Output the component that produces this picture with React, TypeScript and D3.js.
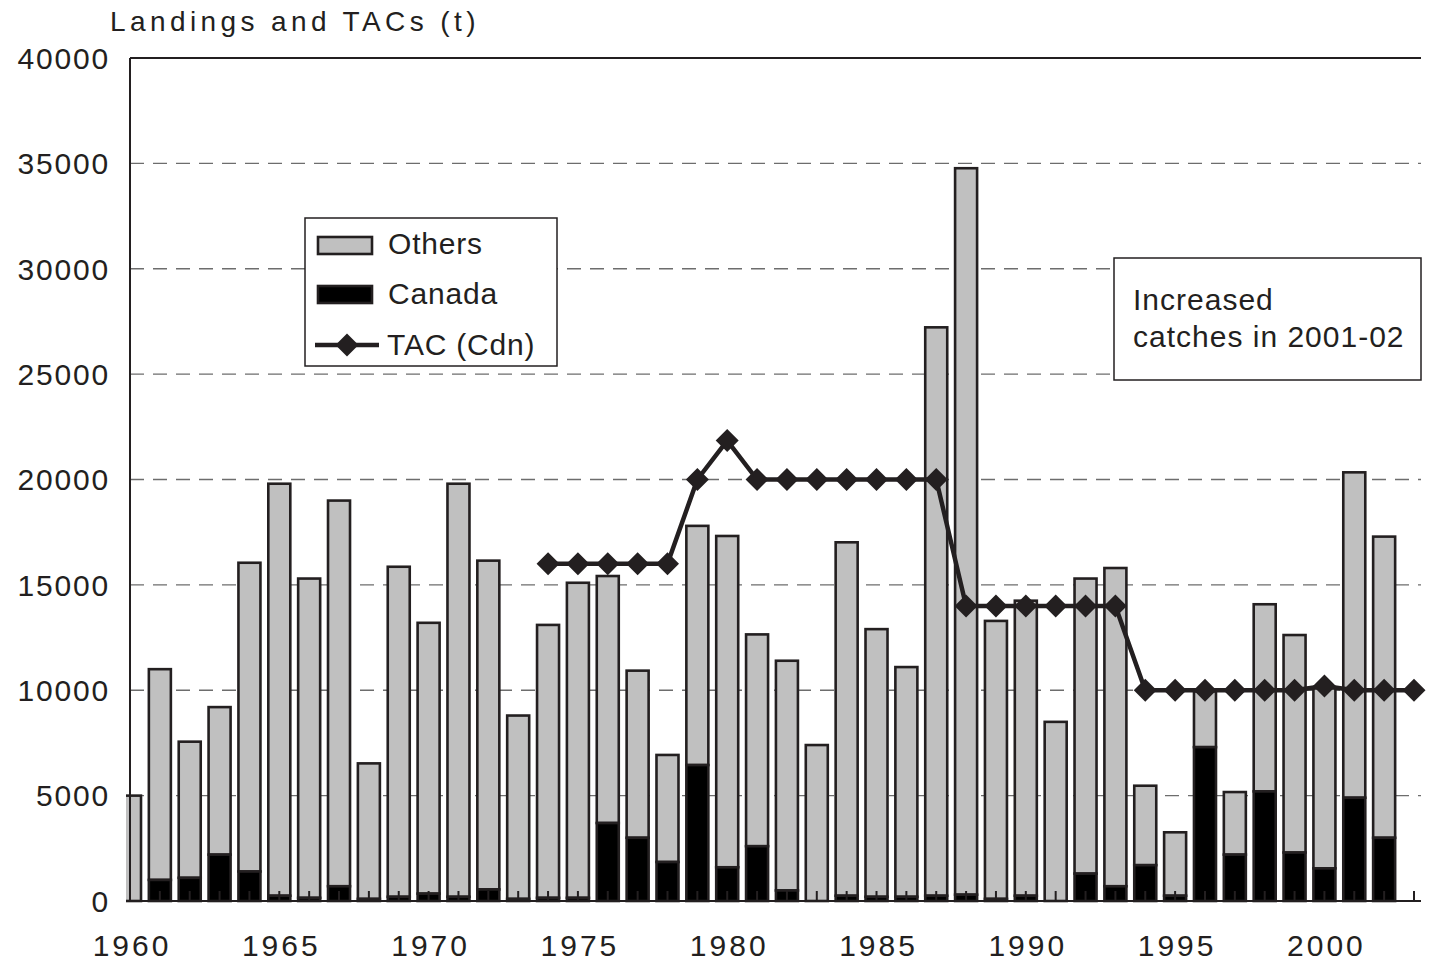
import React from "react";
import * as d3 from "d3";

const years = d3.range(1960, 2003);
const canada = [0, 1000, 1100, 2200, 1400, 250, 150, 700, 100, 200, 350, 200, 550, 100, 150, 150, 3700, 3000, 1850, 6450, 1600, 2600, 500, 0, 250, 200, 200, 250, 300, 100, 250, 0, 1300, 700, 1700, 250, 7300, 2200, 5200, 2300, 1550, 4900, 3000];
const totals = [5000, 11000, 7560, 9200, 16050, 19800, 15300, 19000, 6530, 15860, 13200, 19800, 16150, 8800, 13100, 15100, 15420, 10930, 6930, 17800, 17320, 12650, 11400, 7400, 17020, 12900, 11100, 27220, 34770, 13290, 14250, 8500, 15300, 15800, 5470, 3260, 9950, 5170, 14080, 12620, 10100, 20340, 17290];
const tacYears = d3.range(1974, 2004);
const tacValues = [16000, 16000, 16000, 16000, 16000, 20000, 21850, 20000, 20000, 20000, 20000, 20000, 20000, 20000, 14000, 14000, 14000, 14000, 14000, 14000, 10000, 10000, 10000, 10000, 10000, 10000, 10200, 10000, 10000, 10000];
const yTicks = [0, 5000, 10000, 15000, 20000, 25000, 30000, 35000, 40000];
const xLabels = [1960, 1965, 1970, 1975, 1980, 1985, 1990, 1995, 2000];
const tickYears = d3.range(1960, 2004);

const INK = "#231f20";
const FONT = "'Liberation Sans', Arial, sans-serif";

export default function App() {
  const left = 130, right = 1414, top = 58, bottom = 901, plotRight = 1421;
  const x = d3.scaleLinear().domain([1960, 2003]).range([left, right]);
  const y = d3.scaleLinear().domain([0, 40000]).range([bottom, top]);
  const bw = 22;
  const line = d3.line<number>().x((_, i) => x(tacYears[i])).y((d) => y(d));
  const diamond = (cx: number, cy: number, r: number) => `M${cx},${cy - r}L${cx + r},${cy}L${cx},${cy + r}L${cx - r},${cy}Z`;

  return (
    <svg width={1433} height={966} style={{ position: "absolute", left: 0, top: 0, background: "#fff" }} fontFamily={FONT}>
      <defs>
        <clipPath id="plotclip">
          <rect x={left - 4} y={0} width={plotRight - left + 10} height={bottom + 2} />
        </clipPath>
      </defs>
      <rect width={1433} height={966} fill="#fff" />
      {/* gridlines */}
      {yTicks.filter((t) => t > 0 && t < 40000).map((t) => (
        <line key={t} x1={left} x2={plotRight} y1={y(t)} y2={y(t)} stroke="#6d6d6d" strokeWidth={1.4} strokeDasharray="14 9" />
      ))}
      {/* bars */}
      <g clipPath="url(#plotclip)">
        {years.map((yr, i) => (
          <g key={yr}>
            <rect x={x(yr) - bw / 2} y={y(totals[i])} width={bw} height={y(canada[i]) - y(totals[i])} fill="#c0c0c0" stroke={INK} strokeWidth={2.6} />
            {canada[i] > 0 && (
              <rect x={x(yr) - bw / 2} y={y(canada[i])} width={bw} height={y(0) - y(canada[i])} fill="#000" stroke={INK} strokeWidth={2.6} />
            )}
          </g>
        ))}
      </g>
      {/* axes */}
      <line x1={left} x2={plotRight} y1={top} y2={top} stroke={INK} strokeWidth={2} />
      <line x1={left} x2={left} y1={top} y2={bottom} stroke={INK} strokeWidth={2} />
      <line x1={left} x2={plotRight} y1={bottom} y2={bottom} stroke={INK} strokeWidth={2} />
      {tickYears.map((t) => (
        <line key={t} x1={x(t)} x2={x(t)} y1={bottom} y2={bottom - 10} stroke={INK} strokeWidth={2} />
      ))}
      {/* TAC line */}
      <path d={line(tacValues) || ""} fill="none" stroke={INK} strokeWidth={4.5} strokeLinejoin="round" />
      {tacValues.map((v, i) => (
        <path key={i} d={diamond(x(tacYears[i]), y(v), 11.5)} fill={INK} />
      ))}
      {/* y labels */}
      {yTicks.map((t) => (
        <text key={t} x={110} y={y(t)} dy="0.36em" textAnchor="end" fontSize={30} letterSpacing={1.8} fill={INK}>
          {t}
        </text>
      ))}
      {/* x labels */}
      {xLabels.map((t) => (
        <text key={t} x={x(t) + 2} y={bottom + 55} textAnchor="middle" fontSize={30} letterSpacing={3} fill={INK}>
          {t}
        </text>
      ))}
      {/* title */}
      <text x={110} y={31} fontSize={28} letterSpacing={4.4} fill={INK}>
        Landings and TACs (t)
      </text>
      {/* legend */}
      <g>
        <rect x={305} y={218} width={252} height={148} fill="#fff" stroke={INK} strokeWidth={1.5} />
        <rect x={318} y={237} width={54} height={17} fill="#c0c0c0" stroke={INK} strokeWidth={2.6} />
        <text x={388} y={254} fontSize={30} letterSpacing={0.8} fill={INK}>Others</text>
        <rect x={318} y={286} width={54} height={17} fill="#000" stroke={INK} strokeWidth={2.6} />
        <text x={388} y={304} fontSize={30} letterSpacing={0.8} fill={INK}>Canada</text>
        <line x1={315} x2={379} y1={345} y2={345} stroke={INK} strokeWidth={4.5} />
        <path d={diamond(347, 345, 11.5)} fill={INK} />
        <text x={387} y={355} fontSize={30} letterSpacing={0.8} fill={INK}>TAC (Cdn)</text>
      </g>
      {/* annotation */}
      <g>
        <rect x={1114} y={258} width={307} height={122} fill="#fff" stroke={INK} strokeWidth={1.5} />
        <text x={1133} y={310} fontSize={30} letterSpacing={1} fill={INK}>Increased</text>
        <text x={1133} y={347} fontSize={30} letterSpacing={1} fill={INK}>catches in 2001-02</text>
      </g>
    </svg>
  );
}
